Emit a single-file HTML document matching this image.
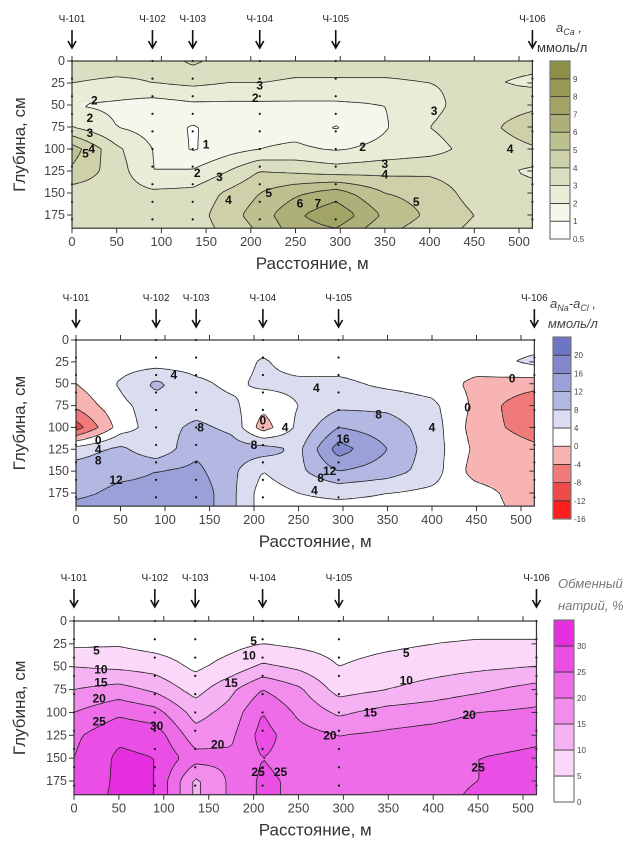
<!DOCTYPE html>
<html><head><meta charset="utf-8"><style>
body{margin:0;background:#fff;}
svg{display:block;font-family:"Liberation Sans",sans-serif;}
</style></head><body>
<svg id="s" width="641" height="855" viewBox="0 0 641 855" xmlns="http://www.w3.org/2000/svg"></svg>
<script>
// Shared grid coordinates (data)
const gridX = [0, 50, 90, 135, 175, 210, 250, 295, 350, 400, 450, 515];
const gridD = [0, 25, 50, 75, 100, 125, 150, 175, 190];
const stationX = [0, 90, 135, 210, 295, 515];
const stationNames = ["Ч-101","Ч-102","Ч-103","Ч-104","Ч-105","Ч-106"];
const xTicks = [0,50,100,150,200,250,300,350,400,450,500];
const yTicks = [0,25,50,75,100,125,150,175];

// Chart 1: aCa
const caLevels = [0.5,1,2,3,4,5,6,7,8,9];
const caLevelLabels = ["0.5","1","2","3","4","5","6","7","8","9"];
const caValues = [
[3.5,3.5,3.3,4.2,3.5,3.4,3.3,3.3,3.3,3.3,3.3,3.3],
[3.0,2.8,3.0,3.2,3.0,3.0,2.9,2.9,2.9,3.0,3.2,2.8],
[2.0,1.8,1.5,1.8,1.8,1.8,1.8,1.8,2.0,2.7,3.5,3.8],
[3.0,2.0,1.6,0.9,1.5,1.6,1.6,0.9,1.9,3.0,3.6,4.5],
[5.5,3.2,2.0,0.9,1.6,2.0,2.2,1.9,2.3,2.6,3.4,3.9],
[4.8,3.5,2.0,2.1,3.0,4.0,3.8,3.5,3.7,3.8,3.5,2.8],
[3.5,3.5,3.2,3.3,4.2,5.0,5.8,6.5,5.0,4.6,3.6,3.4],
[3.5,3.5,3.4,3.5,4.6,5.5,6.8,7.8,5.8,4.8,4.0,3.5],
[3.5,3.5,3.4,3.5,4.3,5.2,6.5,7.0,5.3,4.5,3.8,3.5]];
const caLabels = [[25,45,"2"],[20,65,"2"],[20,82,"3"],[22,100,"4"],[15,105,"5"],[210,28,"3"],[205,42,"2"],[405,57,"3"],[150,95,"1"],[325,98,"2"],[350,117,"3"],[140,127,"2"],[165,132,"3"],[350,129,"4"],[175,158,"4"],[220,150,"5"],[255,162,"6"],[275,162,"7"],[385,160,"5"],[490,100,"4"]];

// Chart 2: aNa - aCl
const naLevels = [-16,-12,-8,-4,0,4,8,12,16,20];
const naLevelLabels = ["-16","-12","-8","-4","0","4","8","12","16","20"];
const naValues = [
[2,2,2,2,2,2,2,2,2,2,2,2],
[2,2,2,2,2,4.5,2,2,2,2,2,5],
[0,4.5,9,5,3,5,5,5,3,2,-1,-2],
[-3,3,6,6,5,1,4,7,7,5,-1,-8],
[-10,2,6,9,7,-2,5,12,10,6,-2,-6],
[6,9,5,11,10,10,7,18,12,6,-1,-3],
[10,11,12,13,9,4,7,12,10,6,-2,-3],
[11,13,13,15,9,2,4,5,4,3,2,-3],
[13,14,13,15,9,2,3,3,3,2,2,-2]];
const naLabels = [[110,40,"4"],[270,55,"4"],[340,85,"8"],[140,100,"8"],[210,92,"0"],[235,100,"4"],[300,113,"16"],[200,120,"8"],[25,115,"0"],[25,125,"4"],[25,138,"8"],[45,160,"12"],[285,150,"12"],[275,158,"8"],[268,172,"4"],[400,100,"4"],[440,77,"0"],[490,44,"0"]];

// Chart 3: exchangeable sodium
const exLevels = [0,5,10,15,20,25,30];
const exLevelLabels = ["0","5","10","15","20","25","30"];
const exValues = [
[1,1,1,1,1,1,1,1,1,1,1,1],
[4,4.5,3,2,3.5,5,4,3,4,5,6,6],
[10,9,8,4,7,11,9,5,7,8,9,10],
[15,17,14,8,14,20,16,8,10,12,14,17],
[20,24,22,13,17,25,19,14,17,18,20,21],
[24,29,28,17,19,27,22,20,21,22,23,24],
[25,31,30,22,21,25,23,22,22,23,25,26],
[26,31,30,14,21,26,24,21,22,23,25,26],
[27,31,30,14,21,26,24,22,22,23,26,26]];
const exLabels = [[25,32,"5"],[30,53,"10"],[30,67,"15"],[28,85,"20"],[28,110,"25"],[92,115,"30"],[200,22,"5"],[195,38,"10"],[175,68,"15"],[160,135,"20"],[205,165,"25"],[230,165,"25"],[285,125,"20"],[330,100,"15"],[370,65,"10"],[370,35,"5"],[440,103,"20"],[450,160,"25"]];

const NS = "http://www.w3.org/2000/svg";
const svg = document.getElementById("s");
function el(tag, attrs, parent, txt){
  const e = document.createElementNS(NS, tag);
  for (const k in attrs) e.setAttribute(k, attrs[k]);
  if (txt !== undefined) e.textContent = txt;
  (parent||svg).appendChild(e);
  return e;
}
function interp(vals, x, d){
  let i=0; while(i<gridX.length-2 && x>gridX[i+1]) i++;
  let j=0; while(j<gridD.length-2 && d>gridD[j+1]) j++;
  const tx=Math.min(1,Math.max(0,(x-gridX[i])/(gridX[i+1]-gridX[i])));
  const ty=Math.min(1,Math.max(0,(d-gridD[j])/(gridD[j+1]-gridD[j])));
  const a=vals[j][i],b=vals[j][i+1],c=vals[j+1][i],e=vals[j+1][i+1];
  return (a*(1-tx)+b*tx)*(1-ty)+(c*(1-tx)+e*tx)*ty;
}
function band(levels, v){ let k=0; while(k<levels.length && v>=levels[k]) k++; return k; }

function drawChart(cfg){
  const g = el("g",{},svg);
  
  
  const sx = m => cfg.px0 + (cfg.px500-cfg.px0)*m/500;
  const sy = c => cfg.py0 + (cfg.py175-cfg.py0)*c/175;
  const L=sx(0), R=sx(515), T=sy(0), B=sy(190);
  const fill = el("g",{},g);
  
  
  const dx=2.5, dd=2.5;
  const nx=Math.round(515/dx), nd=Math.round(190/dd);
  for(let r=0;r<nd;r++){
    let start=0, cur=null;
    for(let c=0;c<=nx;c++){
      const k = c<nx ? band(cfg.levels, interp(cfg.values,(c+0.5)*dx,(r+0.5)*dd)) : -1;
      if(c===0){cur=k;start=0;continue;}
      if(k!==cur){
        const x0=sx(start*dx), x1=sx(c*dx);
        el("rect",{x:x0.toFixed(2),y:sy(r*dd).toFixed(2),width:(x1-x0+0.4).toFixed(2),height:(sy((r+1)*dd)-sy(r*dd)+0.4).toFixed(2),fill:cfg.colors[cur]},fill);
        cur=k;start=c;
      }
    }
  }
  let dstr="";
  const gx=4, gd=4, mx=Math.ceil(515/gx), md=Math.ceil(190/gd);
  const V=[]; for(let r=0;r<=md;r++){V.push([]);for(let c=0;c<=mx;c++)V[r].push(interp(cfg.values,Math.min(515,c*gx),Math.min(190,r*gd)));}
  for(const lv of cfg.levels.slice(1)){
    for(let r=0;r<md;r++)for(let c=0;c<mx;c++){
      const x0=c*gx,x1=Math.min(515,(c+1)*gx),d0=r*gd,d1=Math.min(190,(r+1)*gd);
      const a=V[r][c],b=V[r][c+1],e=V[r+1][c+1],f=V[r+1][c];
      const pts=[];
      const cr=(p,q,P,Q)=>{ if((p<lv)!==(q<lv)){const t=(lv-p)/(q-p);pts.push([P[0]+(Q[0]-P[0])*t,P[1]+(Q[1]-P[1])*t]);} };
      cr(a,b,[x0,d0],[x1,d0]); cr(b,e,[x1,d0],[x1,d1]); cr(e,f,[x1,d1],[x0,d1]); cr(f,a,[x0,d1],[x0,d0]);
      for(let p=0;p+1<pts.length;p+=2) dstr+=`M${sx(pts[p][0]).toFixed(1)},${sy(pts[p][1]).toFixed(1)}L${sx(pts[p+1][0]).toFixed(1)},${sy(pts[p+1][1]).toFixed(1)}`;
    }
  }
  const lines=el("path",{d:dstr,stroke:"#222",fill:"none","stroke-width":"0.8"},g);
  
  
  stationX.forEach((s,i)=>{
    for(let d=0; d<=190; d+=20){
      const dot=el("circle",{cx:sx(s),cy:sy(d),r:1.1,fill:"#111"},g);
      
      
    }
  });
  cfg.labels.forEach(lb=>{
    const t=el("text",{x:sx(lb[0]),y:sy(lb[1])+4,"font-size":"12","font-weight":"bold","text-anchor":"middle",fill:"#111"},g,lb[2]);
    
    
  });
  const fr=el("rect",{x:L,y:T,width:R-L,height:B-T,fill:"none",stroke:"#333","stroke-width":"1.2"},g);
  
  
  xTicks.forEach(v=>{
    el("line",{x1:sx(v),x2:sx(v),y1:T,y2:T-5,stroke:"#333"},g);
    el("line",{x1:sx(v),x2:sx(v),y1:B,y2:B+5,stroke:"#333"},g);
    const t=el("text",{x:sx(v),y:B+18,"font-size":"13","text-anchor":"middle",fill:"#444"},g,String(v));
    
    
  });
  yTicks.forEach(v=>{
    el("line",{x1:L,x2:L-5,y1:sy(v),y2:sy(v),stroke:"#333"},g);
    el("line",{x1:R,x2:R-5,y1:sy(v),y2:sy(v),stroke:"#333"},g);
    const t=el("text",{x:L-7,y:sy(v)+4,"font-size":"12.5","text-anchor":"end",fill:"#444"},g,String(v));
    
    
  });
  const xt=el("text",{x:(L+R)/2+10,y:B+41,"font-size":"17","text-anchor":"middle",fill:"#333"},g,"Расстояние, м");
  
  
  const yt=el("text",{x:0,y:0,"font-size":"17","text-anchor":"middle",fill:"#333",transform:`translate(25,${(T+B)/2}) rotate(-90)`},g,"Глубина, см");
  
  
  stationX.forEach((s,i)=>{
    const t=el("text",{x:sx(s),y:cfg.labY,"font-size":"10","text-anchor":"middle",fill:"#222"},g,stationNames[i]);
    
    
    const a=el("path",{d:`M${sx(s)},${cfg.labY+8}V${cfg.labY+25}M${sx(s)-4},${cfg.labY+19}L${sx(s)},${cfg.labY+26}L${sx(s)+4},${cfg.labY+19}`,stroke:"#111","stroke-width":"1.6",fill:"none"},g);
    
    
  });
  const cb=el("g",{},g);
  
  
  const n=cfg.levels.length; const bh=(cfg.cbB-cfg.cbT)/n;
  for(let k=0;k<n;k++){
    const y=cfg.cbB-(k+1)*bh;
    el("rect",{x:cfg.cbX,y:y,width:cfg.cbW,height:bh,fill:cfg.colors[k+1],stroke:"#333","stroke-width":"0.8"},cb);
  }
  el("rect",{x:cfg.cbX,y:cfg.cbT,width:cfg.cbW,height:cfg.cbB-cfg.cbT,fill:"none",stroke:"#777","stroke-width":"1.2"},cb);
  cfg.levelLabels.forEach((s,k)=>{
    const t=el("text",{x:cfg.cbX+cfg.cbW+3,y:cfg.cbB-k*bh+3,"font-size":"8",fill:"#444"},cb,s);
    
    
  });
}

drawChart({name:"calcium-chart",px0:72,px500:519,py0:61,py175:215,values:caValues,levels:caLevels,levelLabels:caLevelLabels,labels:caLabels,
 colors:["#ffffff","#ffffff","#f6f6ec","#ebecd8","#dcdec1","#cdd0a8","#bdc08f","#adb078","#a1a464","#979a55","#8e904a"],
 labY:22,cbX:550,cbW:20,cbT:61,cbB:239});
drawChart({name:"sodium-chloride-chart",px0:76,px500:521,py0:340,py175:493,values:naValues,levels:naLevels,levelLabels:naLevelLabels,labels:naLabels,
 colors:["#ff1e1e","#ff1e1e","#ee4a4a","#f07a7a","#f8b3b3","#ffffff","#dadcf0","#b3b8e2","#9aa1d8","#8189cc","#6c76c3"],
 labY:301,cbX:553,cbW:18,cbT:337,cbB:519});
drawChart({name:"exchangeable-sodium-chart",px0:74,px500:523,py0:621,py175:781,values:exValues,levels:exLevels,levelLabels:exLevelLabels,labels:exLabels,
 colors:["#ffffff","#ffffff","#fbd7fa","#f6b3f3","#f28dee","#ee6ce8","#ea4ee4","#e52fdf"],
 labY:581,cbX:554,cbW:20,cbT:620,cbB:802});

const t1=el("text",{x:556,y:32,"font-size":"13","font-style":"italic",fill:"#444"}); t1.innerHTML='a<tspan font-size="9" dy="3">Ca</tspan><tspan dy="-3"> ,</tspan>';


const t1b=el("text",{x:537,y:52,"font-size":"13",fill:"#333"},svg,"ммоль/л");


const t2=el("text",{x:550,y:308,"font-size":"13","font-style":"italic",fill:"#444"}); t2.innerHTML='a<tspan font-size="9" dy="3">Na</tspan><tspan dy="-3">-a</tspan><tspan font-size="9" dy="3">Cl</tspan><tspan dy="-3"> ,</tspan>';


const t2b=el("text",{x:548,y:328,"font-size":"13","font-style":"italic",fill:"#444"},svg,"ммоль/л");


const t3=el("text",{x:558,y:588,"font-size":"13","font-style":"italic",fill:"#777"},svg,"Обменный");


const t3b=el("text",{x:558,y:610,"font-size":"13","font-style":"italic",fill:"#777"},svg,"натрий, %");


</script>
</body></html>
